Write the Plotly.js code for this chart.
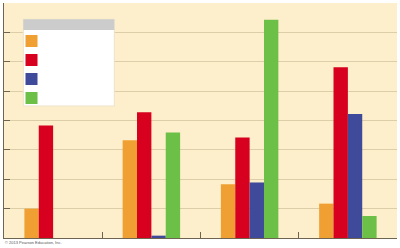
<!DOCTYPE html>
<html>
<head>
<meta charset="utf-8">
<script src="https://cdn.plot.ly/plotly-3.0.1.min.js"></script>
<style>html,body{margin:0;padding:0;background:#fff;}#chart{width:400px;height:248px;}</style>
</head>
<body>
<div id="chart"></div>
<script>
// Data
var categories = ['Group 1', 'Group 2', 'Group 3', 'Group 4'];
var seriesNames = ['', '', '', ''];
var orangeValues = [1.0, 3.33, 1.83, 1.17];
var redValues = [3.83, 4.28, 3.42, 5.81];
var blueValues = [0, 0.08, 1.89, 4.22];
var greenValues = [0, 3.59, 7.43, 0.75];
var seriesColors = ['#F0A033', '#D7001F', '#3F4B9A', '#6CBF47'];
var copyrightText = '\u00A9 2013 Pearson Education, Inc.';

var allValues = [orangeValues, redValues, blueValues, greenValues];
var traces = allValues.map(function (vals, i) {
  return {
    type: 'bar',
    x: categories,
    y: vals,
    name: seriesNames[i],
    marker: { color: seriesColors[i], line: { width: 0 } },
    hoverinfo: 'none'
  };
});

function px2x(p) { return (p - 4) / 393; }
function px2y(p) { return (238 - p) / 235; }

var layout = {
  width: 400,
  height: 248,
  margin: { l: 4, r: 3, t: 3, b: 10, pad: 0 },
  paper_bgcolor: '#ffffff',
  plot_bgcolor: '#FDEFCB',
  barmode: 'group',
  bargap: 0.415,
  bargroupgap: 0,
  showlegend: true,
  legend: {
    x: px2x(11.5), y: px2y(26.5), xanchor: 'left', yanchor: 'top',
    bgcolor: 'rgba(0,0,0,0)', borderwidth: 0,
    font: { family: 'Liberation Sans, Arial, sans-serif', size: 10, color: '#333' },
    traceorder: 'normal'
  },
  xaxis: {
    type: 'category',
    range: [-0.5, 3.5],
    showticklabels: false,
    tickson: 'boundaries',
    ticks: 'inside',
    ticklen: 6,
    tickwidth: 1,
    tickcolor: '#6E6452',
    showgrid: false,
    showline: true,
    linecolor: '#6E6452',
    linewidth: 1,
    zeroline: false,
    fixedrange: true
  },
  yaxis: {
    range: [0, 8],
    dtick: 1,
    tick0: 0,
    showticklabels: false,
    ticks: 'inside',
    ticklen: 6,
    tickwidth: 1,
    tickcolor: '#6E6452',
    showgrid: true,
    gridcolor: '#DCCEA6',
    gridwidth: 1,
    showline: true,
    linecolor: '#6E6452',
    linewidth: 1,
    zeroline: false,
    fixedrange: true
  },
  shapes: [
    { type: 'rect', xref: 'paper', yref: 'paper',
      x0: px2x(23.3), x1: px2x(114.3), y0: px2y(106), y1: px2y(19.3),
      fillcolor: '#ffffff', line: { color: '#EDE3C8', width: 1 }, layer: 'above' },
    { type: 'rect', xref: 'paper', yref: 'paper',
      x0: px2x(23.3), x1: px2x(114.3), y0: px2y(30), y1: px2y(19.3),
      fillcolor: '#CCCCCC', line: { width: 0 }, layer: 'above' }
  ],
  annotations: [
    { text: copyrightText, xref: 'paper', yref: 'paper',
      x: px2x(3), y: px2y(243), xanchor: 'left', yanchor: 'middle',
      showarrow: false, font: { family: 'Liberation Sans, Arial, sans-serif', size: 4, color: '#555' } }
  ]
};

Plotly.newPlot('chart', traces, layout, { staticPlot: true, displayModeBar: false });
</script>
</body>
</html>
